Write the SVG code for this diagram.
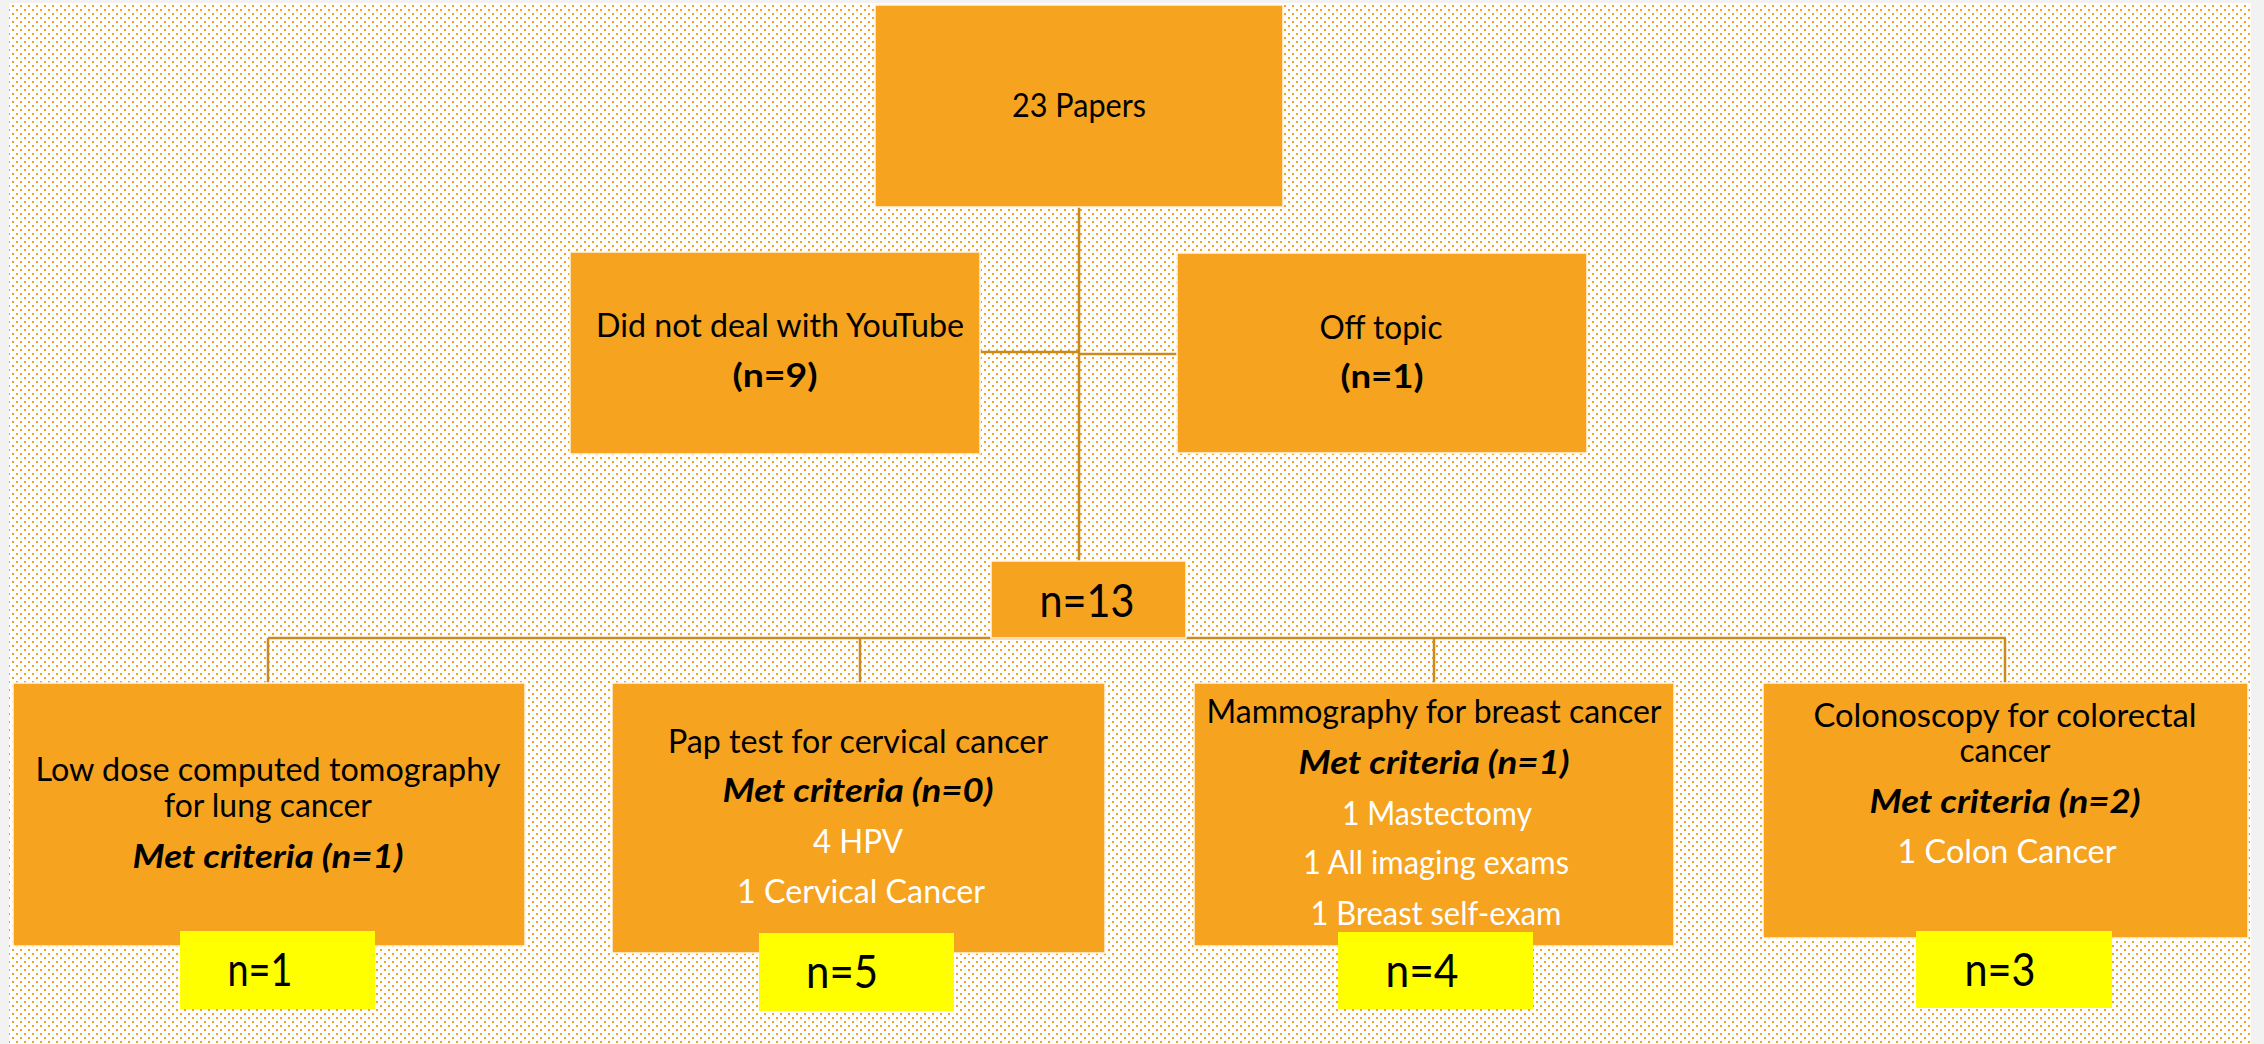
<svg xmlns="http://www.w3.org/2000/svg" width="2264" height="1044" viewBox="0 0 2264 1044">
<defs>
<pattern id="dots" x="0" y="1" width="8" height="8" patternUnits="userSpaceOnUse">
<rect x="0" y="0" width="2" height="2" fill="#F5A31E"/>
<rect x="4" y="4" width="2" height="2" fill="#F5A31E"/>
</pattern>
<style>
.box{fill:#F6A31F;stroke:#FFF6E6;stroke-width:1.5}
.ybox{fill:#FFFF00}
.t{font-family:Lato,"Open Sans","Liberation Sans",sans-serif;font-size:32px;fill:#000;text-anchor:middle}
.w{fill:#FFFFFF}
.bi{font-weight:bold;font-style:italic}
.b{font-weight:bold}
.n{font-family:Lato,"Liberation Sans",sans-serif;font-size:46px;fill:#000;text-anchor:middle}
.conn{stroke:#C98A1F;stroke-width:2.5;fill:none}
</style>
</defs>
<rect x="0" y="0" width="2264" height="1044" fill="#F2F2F2"/>
<rect x="9" y="3" width="2242" height="1041" fill="#FFFFFF"/>
<rect x="9" y="3" width="2242" height="1041" fill="url(#dots)"/>

<g id="connectors">
<path class="conn" d="M1079 207 V562"/>
<path class="conn" d="M980 352 H1079"/>
<path class="conn" d="M1079 354 H1177"/>
<path class="conn" d="M268 638 H2006"/>
<path class="conn" d="M268 638 V683"/>
<path class="conn" d="M860 638 V683"/>
<path class="conn" d="M1434 638 V683"/>
<path class="conn" d="M2005 638 V683"/>
</g>

<g id="node-papers">
<rect class="box" x="875" y="5" width="408" height="202"/>
<text class="t" x="1079" y="117" style="font-size:33px" textLength="134" lengthAdjust="spacingAndGlyphs">23 Papers</text>
</g>

<g id="node-youtube">
<rect class="box" x="570" y="252" width="410" height="202"/>
<text class="t" x="780" y="337" textLength="368" lengthAdjust="spacingAndGlyphs">Did not deal with YouTube</text>
<text class="t b" x="775" y="387" textLength="85" lengthAdjust="spacingAndGlyphs">(n=9)</text>
</g>

<g id="node-offtopic">
<rect class="box" x="1177" y="253" width="410" height="200"/>
<text class="t" x="1381" y="339" textLength="123" lengthAdjust="spacingAndGlyphs">Off topic</text>
<text class="t b" x="1382" y="388" textLength="83" lengthAdjust="spacingAndGlyphs">(n=1)</text>
</g>

<g id="node-n13">
<rect class="box" x="991" y="561" width="195" height="77"/>
<text class="t" x="1087" y="617" style="font-size:47px" textLength="95" lengthAdjust="spacingAndGlyphs">n=13</text>
</g>

<g id="node-lung">
<rect class="box" x="13" y="683" width="512" height="263"/>
<text class="t" x="268" y="781" textLength="465" lengthAdjust="spacingAndGlyphs">Low dose computed tomography</text>
<text class="t" x="268" y="817" textLength="208" lengthAdjust="spacingAndGlyphs">for lung cancer</text>
<text class="t bi" x="268" y="868" textLength="271" lengthAdjust="spacingAndGlyphs">Met criteria (n=1)</text>
</g>
<g id="count-lung">
<rect class="ybox" x="180" y="931" width="195" height="78"/>
<text class="n" x="260" y="986" textLength="65" lengthAdjust="spacingAndGlyphs">n=1</text>
</g>

<g id="node-pap">
<rect class="box" x="612" y="683" width="493" height="270"/>
<text class="t" x="858" y="753" textLength="380" lengthAdjust="spacingAndGlyphs">Pap test for cervical cancer</text>
<text class="t bi" x="858" y="802" textLength="271" lengthAdjust="spacingAndGlyphs">Met criteria (n=0)</text>
<text class="t w" x="858" y="853" textLength="90" lengthAdjust="spacingAndGlyphs">4 HPV</text>
<text class="t w" x="861" y="903" textLength="248" lengthAdjust="spacingAndGlyphs">1 Cervical Cancer</text>
</g>
<g id="count-pap">
<rect class="ybox" x="759" y="933" width="195" height="78"/>
<text class="n" x="842" y="988" textLength="72" lengthAdjust="spacingAndGlyphs">n=5</text>
</g>

<g id="node-mammo">
<rect class="box" x="1194" y="683" width="480" height="263"/>
<text class="t" x="1434" y="723" textLength="455" lengthAdjust="spacingAndGlyphs">Mammography for breast cancer</text>
<text class="t bi" x="1434" y="774" textLength="271" lengthAdjust="spacingAndGlyphs">Met criteria (n=1)</text>
<text class="t w" x="1437" y="825" textLength="190" lengthAdjust="spacingAndGlyphs">1 Mastectomy</text>
<text class="t w" x="1436" y="874" textLength="266" lengthAdjust="spacingAndGlyphs">1 All imaging exams</text>
<text class="t w" x="1436" y="925" textLength="251" lengthAdjust="spacingAndGlyphs">1 Breast self-exam</text>
</g>
<g id="count-mammo">
<rect class="ybox" x="1338" y="932" width="195" height="77"/>
<text class="n" x="1422" y="987" textLength="73" lengthAdjust="spacingAndGlyphs">n=4</text>
</g>

<g id="node-colon">
<rect class="box" x="1763" y="683" width="485" height="255"/>
<text class="t" x="2005" y="727" textLength="383" lengthAdjust="spacingAndGlyphs">Colonoscopy for colorectal</text>
<text class="t" x="2005" y="762" textLength="91" lengthAdjust="spacingAndGlyphs">cancer</text>
<text class="t bi" x="2005" y="813" textLength="271" lengthAdjust="spacingAndGlyphs">Met criteria (n=2)</text>
<text class="t w" x="2007" y="863" textLength="219" lengthAdjust="spacingAndGlyphs">1 Colon Cancer</text>
</g>
<g id="count-colon">
<rect class="ybox" x="1916" y="931" width="196" height="77"/>
<text class="n" x="2000" y="986" textLength="71" lengthAdjust="spacingAndGlyphs">n=3</text>
</g>
</svg>
